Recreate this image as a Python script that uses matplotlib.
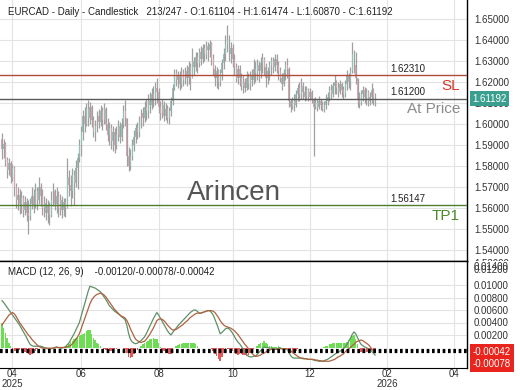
import numpy as np
import matplotlib.pyplot as plt
from matplotlib.transforms import Bbox, TransformedBbox, blended_transform_factory

plt.rcParams['font.family'] = ['Liberation Sans', 'DejaVu Sans']

title_left = "EURCAD - Daily - Candlestick"
title_right = "213/247 - O:1.61104 - H:1.61474 - L:1.60870 - C:1.61192"
macd_title = "MACD (12, 26, 9)    -0.00120/-0.00078/-0.00042"

# daily bars, open = previous close
first_open = 1.5930
closes = [
    1.5880, 1.5905, 1.5830, 1.5780, 1.5815, 1.5750, 1.5790, 1.5700, 1.5640, 1.5665,
    1.5620, 1.5650, 1.5590, 1.5630, 1.5580, 1.5565, 1.5620, 1.5660, 1.5610, 1.5680,
    1.5640, 1.5700, 1.5660, 1.5600, 1.5625, 1.5580, 1.5610, 1.5570, 1.5640, 1.5680,
    1.5620, 1.5660, 1.5600, 1.5640, 1.5590, 1.5630, 1.5600, 1.5750, 1.5710, 1.5680,
    1.5760, 1.5720, 1.5790, 1.5840, 1.5900, 1.5960, 1.6040, 1.6000, 1.6070, 1.6030,
    1.6080, 1.6020, 1.5960, 1.5990, 1.6040, 1.6010, 1.6060, 1.6020, 1.6070, 1.6000,
    1.5950, 1.5980, 1.5920, 1.5960, 1.5900, 1.5950, 1.5990, 1.5940, 1.6000, 1.6060,
    1.6030, 1.5850, 1.5800, 1.5850, 1.5900, 1.5940, 1.5980, 1.5960, 1.6010, 1.6050,
    1.6030, 1.6080, 1.6060, 1.6110, 1.6090, 1.6140, 1.6120, 1.6170, 1.6150, 1.6080,
    1.6050, 1.6090, 1.6040, 1.6070, 1.6030, 1.6060, 1.6110, 1.6170, 1.6240, 1.6210,
    1.6230, 1.6190, 1.6240, 1.6210, 1.6250, 1.6220, 1.6270, 1.6220, 1.6300, 1.6270,
    1.6320, 1.6290, 1.6340, 1.6310, 1.6360, 1.6330, 1.6370, 1.6350, 1.6380, 1.6310,
    1.6260, 1.6220, 1.6250, 1.6200, 1.6240, 1.6290, 1.6330, 1.6380, 1.6400, 1.6330,
    1.6360, 1.6310, 1.6270, 1.6220, 1.6260, 1.6220, 1.6180, 1.6200, 1.6170, 1.6220,
    1.6190, 1.6230, 1.6210, 1.6260, 1.6240, 1.6280, 1.6250, 1.6290, 1.6310, 1.6270,
    1.6220, 1.6250, 1.6280, 1.6300, 1.6270, 1.6310, 1.6280, 1.6250, 1.6220, 1.6190,
    1.6240, 1.6280, 1.6260, 1.6110, 1.6080, 1.6110, 1.6090, 1.6140, 1.6170, 1.6140,
    1.6180, 1.6150, 1.6130, 1.6160, 1.6130, 1.6150, 1.6120, 1.6080, 1.6100, 1.6080,
    1.6110, 1.6090, 1.6070, 1.6090, 1.6110, 1.6130, 1.6160, 1.6140, 1.6180, 1.6200,
    1.6170, 1.6150, 1.6190, 1.6160, 1.6140, 1.6190, 1.6230, 1.6200, 1.6250, 1.6330,
    1.6280, 1.6220, 1.6120, 1.6100, 1.6140, 1.6160, 1.6130, 1.6150, 1.6110, 1.6130,
    1.6160, 1.61104, 1.61192,
]
highs = [
    1.5957, 1.5930, 1.5915, 1.5845, 1.5840, 1.5825, 1.5810, 1.5800, 1.5720, 1.5700,
    1.5690, 1.5680, 1.5665, 1.5660, 1.5650, 1.5640, 1.5650, 1.5700, 1.5690, 1.5720,
    1.5700, 1.5750, 1.5720, 1.5690, 1.5660, 1.5650, 1.5640, 1.5630, 1.5680, 1.5720,
    1.5690, 1.5700, 1.5680, 1.5670, 1.5660, 1.5650, 1.5650, 1.5840, 1.5780, 1.5760,
    1.5790, 1.5780, 1.5830, 1.5860, 1.5930, 1.5990, 1.6066, 1.6080, 1.6100, 1.6114,
    1.6105, 1.6090, 1.6040, 1.6020, 1.6060, 1.6070, 1.6090, 1.6080, 1.6100, 1.6080,
    1.6030, 1.6010, 1.6000, 1.5990, 1.5980, 1.5990, 1.6020, 1.6010, 1.6030, 1.6090,
    1.6115, 1.6030, 1.5890, 1.5880, 1.5930, 1.5970, 1.6000, 1.6010, 1.6040, 1.6070,
    1.6080, 1.6110, 1.6120, 1.6140, 1.6150, 1.6170, 1.6180, 1.6200, 1.6220, 1.6170,
    1.6110, 1.6120, 1.6110, 1.6100, 1.6090, 1.6080, 1.6130, 1.6190, 1.6260, 1.6260,
    1.6250, 1.6250, 1.6270, 1.6260, 1.6270, 1.6280, 1.6300, 1.6290, 1.6360, 1.6320,
    1.6340, 1.6340, 1.6360, 1.6370, 1.6380, 1.6380, 1.6395, 1.6390, 1.6400, 1.6390,
    1.6330, 1.6280, 1.6270, 1.6260, 1.6260, 1.6310, 1.6360, 1.6420, 1.6470, 1.6420,
    1.6390, 1.6380, 1.6330, 1.6290, 1.6280, 1.6280, 1.6240, 1.6230, 1.6220, 1.6250,
    1.6240, 1.6250, 1.6260, 1.6310, 1.6300, 1.6310, 1.6300, 1.6320, 1.6336, 1.6320,
    1.6290, 1.6270, 1.6300, 1.6320, 1.6320, 1.6330, 1.6330, 1.6300, 1.6270, 1.6240,
    1.6260, 1.6300, 1.6315, 1.6270, 1.6120, 1.6130, 1.6140, 1.6160, 1.6190, 1.6200,
    1.6218, 1.6200, 1.6180, 1.6180, 1.6170, 1.6170, 1.6160, 1.6125, 1.6130, 1.6120,
    1.6135, 1.6120, 1.6110, 1.6110, 1.6140, 1.6150, 1.6180, 1.6190, 1.6200, 1.6232,
    1.6210, 1.6200, 1.6210, 1.6200, 1.6180, 1.6210, 1.6256, 1.6240, 1.6270, 1.6390,
    1.6350, 1.6340, 1.6220, 1.6150, 1.6160, 1.6180, 1.6175, 1.6170, 1.6160, 1.6150,
    1.6195, 1.6170, 1.61474,
]
lows = [
    1.5835, 1.5840, 1.5800, 1.5745, 1.5760, 1.5720, 1.5730, 1.5660, 1.5600, 1.5590,
    1.5575, 1.5580, 1.5560, 1.5570, 1.5540, 1.5480, 1.5545, 1.5595, 1.5580, 1.5600,
    1.5590, 1.5620, 1.5610, 1.5570, 1.5560, 1.5545, 1.5530, 1.5520, 1.5560, 1.5610,
    1.5590, 1.5580, 1.5560, 1.5570, 1.5555, 1.5565, 1.5560, 1.5600, 1.5660, 1.5610,
    1.5650, 1.5615, 1.5700, 1.5690, 1.5820, 1.5850, 1.5925, 1.5960, 1.5990, 1.5990,
    1.6000, 1.5985, 1.5940, 1.5920, 1.5960, 1.5980, 1.5990, 1.5970, 1.6000, 1.5970,
    1.5920, 1.5900, 1.5880, 1.5870, 1.5860, 1.5880, 1.5920, 1.5910, 1.5920, 1.5980,
    1.5990, 1.5800, 1.5775, 1.5780, 1.5830, 1.5870, 1.5910, 1.5930, 1.5940, 1.5980,
    1.5990, 1.6010, 1.6020, 1.6030, 1.6050, 1.6070, 1.6080, 1.6090, 1.6100, 1.6050,
    1.6020, 1.6030, 1.6015, 1.6020, 1.6005, 1.6000, 1.6040, 1.6090, 1.6160, 1.6180,
    1.6170, 1.6160, 1.6170, 1.6180, 1.6190, 1.6180, 1.6190, 1.6160, 1.6220, 1.6230,
    1.6250, 1.6240, 1.6270, 1.6280, 1.6290, 1.6300, 1.6310, 1.6300, 1.6320, 1.6280,
    1.6230, 1.6180, 1.6170, 1.6165, 1.6180, 1.6210, 1.6260, 1.6300, 1.6340, 1.6300,
    1.6290, 1.6270, 1.6230, 1.6200, 1.6190, 1.6180, 1.6160, 1.6147, 1.6150, 1.6160,
    1.6165, 1.6160, 1.6180, 1.6190, 1.6200, 1.6210, 1.6200, 1.6220, 1.6240, 1.6230,
    1.6175, 1.6190, 1.6210, 1.6230, 1.6240, 1.6250, 1.6240, 1.6210, 1.6200, 1.6160,
    1.6180, 1.6210, 1.6220, 1.6080, 1.6055, 1.6070, 1.6060, 1.6080, 1.6110, 1.6110,
    1.6120, 1.6120, 1.6110, 1.6115, 1.6110, 1.6115, 1.6100, 1.5850, 1.6070, 1.6060,
    1.6070, 1.6065, 1.6060, 1.6057, 1.6070, 1.6090, 1.6110, 1.6120, 1.6130, 1.6140,
    1.6140, 1.6130, 1.6140, 1.6130, 1.6120, 1.6130, 1.6160, 1.6170, 1.6160, 1.6240,
    1.6240, 1.6190, 1.6080, 1.6075, 1.6090, 1.6110, 1.6100, 1.6090, 1.6085, 1.6090,
    1.6100, 1.6090, 1.60870,
]

# MACD and signal, in units of 0.0001
macd_pips = [
    75, 72, 68, 64, 60, 56, 52, 48, 44, 40, 36,
    31, 26, 21, 16, 10, 5, 3, 2, 2, 2, 2, 2,
    1, 0, -1, -2, -3, -2, -1, 0, 1, 0, -1, -1, 0, 1,
    4, 7, 12, 17, 22, 28, 34, 40, 50, 60, 70, 80, 90, 98,
    97, 96, 95, 93, 91, 89, 85, 81, 77, 72, 67,
    64, 61, 58, 56, 54, 52, 49, 47, 44,
    35, 22, 13, 9, 7, 6, 7, 9, 11, 14, 17,
    22, 28, 34, 40, 46, 51, 56, 52, 47, 42, 37,
    32, 27, 23, 20, 24, 28, 31, 35, 38,
    41, 44, 47, 50, 53, 56, 58, 60, 60, 58, 55,
    55, 56, 57, 58, 59, 59, 56, 52, 45, 38, 30, 22,
    24, 27, 30, 31, 30, 27, 23, 18, 13, 9, 6,
    2, -3, -7, -11, -14, -15, -15, -14, -14,
    -11, -8, -5, -2, 1, 0, 0, -1, -1, -2, -2,
    -2, -1, -1, -2, -2, -2, -3, -8, -13, -16,
    -17, -17, -17, -17, -17, -18, -18, -18, -19, -19,
    -19, -20, -21, -21, -22, -22, -22, -21, -20, -19, -17,
    -15, -13, -11, -9, -8, -6, -4, -2, 1, 5,
    10, 15, 21, 25, 22, 16, 10, 5,
    3, 1, 0, -2, -3, -6, -9, -12,
]
signal_pips = [
    36, 40, 44, 48, 52, 54, 56, 54, 50, 45, 40,
    36, 32, 28, 24, 20, 17, 13, 10, 7, 4, 2, 0,
    -1, -1, -1, -1, -1, -1, -1, -1, 0, 0, 0, 0, 0, 0,
    1, 2, 3, 6, 9, 13, 17, 22, 30, 38, 46, 54, 62, 70,
    76, 80, 83, 85, 86, 87, 86, 84, 81, 77, 73,
    69, 65, 61, 58, 55, 52, 50, 49, 47,
    43, 37, 30, 24, 18, 13, 11, 9, 8, 9, 10,
    13, 17, 21, 26, 31, 37, 43, 45, 46, 45, 43,
    40, 36, 33, 30, 28, 28, 29, 31, 33,
    35, 37, 40, 42, 45, 48, 50, 52, 54, 55, 55,
    55, 56, 57, 58, 59, 59, 59, 58, 56, 52, 48, 43,
    39, 36, 34, 33, 32, 31, 29, 27, 24, 21, 17,
    13, 9, 5, 2, -2, -6, -9, -12, -14,
    -14, -13, -12, -10, -9, -7, -5, -4, -3, -3, -3,
    -3, -3, -2, -2, -2, -2, -2, -3, -5, -8,
    -10, -12, -14, -16, -17, -17, -18, -18, -19, -19,
    -19, -19, -20, -20, -21, -21, -22, -22, -22, -22, -22,
    -21, -20, -19, -17, -15, -14, -12, -10, -7, -4,
    -2, 0, 3, 5, 8, 10, 11, 12,
    11, 9, 7, 5, 2, -2, -5, -8,
]

levels = [1.62310, 1.61200, 1.56147]
level_names = ["SL", "At Price", "TP1"]
last_price = 1.61192
macd_last = [-0.00042, -0.00078]

tick_pos = [6, 45, 89, 131, 175, 219, 257]
tick_labels = ["04\n2025", "06", "08", "10", "12", "02\n2026", "04"]

closes = np.array(closes)
highs = np.array(highs)
lows = np.array(lows)
opens = np.concatenate([[first_open], closes[:-1]])
x = np.arange(len(closes))
macd = np.array(macd_pips) / 10000
signal = np.array(signal_pips) / 10000
hist = macd - signal

fig = plt.figure(figsize=(5.2, 3.9), dpi=100)
ax = fig.add_axes([0, 1 - 261 / 390, 467 / 520, 261 / 390])
ax2 = fig.add_axes([0, 1 - 368 / 390, 467 / 520, 107 / 390])

grid_c = '#e3e3e3'
txt_c = '#333333'
xmin, xmax = -1.1, 264.2

for a in (ax, ax2):
    a.set_xlim(xmin, xmax)
    a.set_xticks(tick_pos)
    a.grid(True, color=grid_c, lw=0.8)
    a.set_axisbelow(True)
    a.yaxis.tick_right()
    a.tick_params(axis='y', length=0, pad=5, labelsize=7, labelcolor=txt_c)
    for s in ('left', 'top'):
        a.spines[s].set_visible(False)
    a.spines['right'].set_linewidth(1.0)

# price panel
ax.set_ylim(1.5350, 1.6588)
ax.set_yticks(np.arange(1.54, 1.6501, 0.01))
ax.yaxis.set_major_formatter(plt.FormatStrFormatter('%.5f'))
ax.tick_params(axis='x', length=0, labelbottom=False)
ax.spines['bottom'].set_linewidth(1.0)

up = closes >= opens
body_c = np.where(up, '#8cc3bb', '#d6a5ac')
ax.vlines(x, lows, highs, color='#a0a0a0', lw=0.9, zorder=2)
ax.bar(x, np.maximum(np.abs(closes - opens), 0.0002), bottom=np.minimum(opens, closes),
       width=0.55, color=body_c, lw=0, zorder=3)

line_cols = ['#b04a3c', '#5a5a5a', '#4d7f2e']
name_cols = ['#d8382b', '#8a8a8a', '#4d8a2e']
for lv, nm, lc, nc in zip(levels, level_names, line_cols, name_cols):
    ax.axhline(lv, color=lc, lw=1.0, zorder=4)
    ax.text(390 / 467 * (xmax - xmin) + xmin, lv + 0.0008, f"{lv:.5f}", fontsize=7,
            color='#222222', va='bottom', zorder=5)
    ax.text(460 / 467 * (xmax - xmin) + xmin, lv - 0.0016, nm, fontsize=11,
            color=nc, ha='right', va='top', zorder=5)

ax.text(0.5, 0.26, "Arincen", transform=ax.transAxes, fontsize=20, color='#555555',
        ha='center', va='center', zorder=1)

ax.text(8 / 467, 1 - 12 / 261, title_left + "   " + title_right, transform=ax.transAxes,
        fontsize=7, color='#222222', va='center')

rt = blended_transform_factory(ax.transAxes, ax.transData)
ax.text(1 + 5 / 467, last_price, f"{last_price:.5f}", transform=rt, fontsize=7,
        color='white', va='center', clip_on=False, zorder=6,
        bbox=dict(boxstyle='square,pad=0.25', fc='#3a9f8e', ec='none'))
ax.text(1 + 7 / 467, 1.66, "1.66000", transform=rt, fontsize=7, color=txt_c,
        va='center', clip_on=False)
t53 = fig.text(474 / 520, 1 - 264 / 390, "1.53000", fontsize=7, color=txt_c,
               va='center')
t53.set_clip_box(TransformedBbox(Bbox([[0.9, 1 - 261 / 390], [1, 1]]), fig.transFigure))
t53.set_clip_on(True)

# MACD panel
ax2.set_ylim(-0.00328, 0.01384)
ax2.set_yticks(np.arange(0.002, 0.0101, 0.002))
ax2.yaxis.set_major_formatter(plt.FormatStrFormatter('%.5f'))
ax2.spines['top'].set_visible(True)
ax2.spines['top'].set_linewidth(1.0)
ax2.set_xticklabels(tick_labels)
ax2.tick_params(axis='x', length=0, pad=1, labelsize=7, labelcolor=txt_c)
for lab in ax2.get_xticklabels():
    lab.set_linespacing(0.9)

hist_c = np.where(hist >= 0, '#6fdc55', '#e05a5a')
ax2.bar(x, hist, width=0.85, color=hist_c, lw=0, zorder=2)
ax2.plot(x, macd, color='#5f9068', lw=0.9, zorder=3)
ax2.plot(x, signal, color='#b0623f', lw=0.9, zorder=3)
for v in macd_last:
    ax2.axhline(v, color='black', lw=1.6, ls=(0, (1.2, 1.2)), zorder=4)

ax2.text(8 / 467, 1 - 11 / 107, macd_title, transform=ax2.transAxes, fontsize=7,
         color='#222222', va='center')
rt2 = blended_transform_factory(ax2.transAxes, ax2.transData)
ax2.text(1 + 7 / 467, 0.0129, "0.01400", transform=rt2, fontsize=7, color=txt_c,
         va='center', clip_on=False)
ax2.text(1 + 7 / 467, 0.0124, "0.01200", transform=rt2, fontsize=7, color=txt_c,
         va='center', clip_on=False)
ax2.text(1 + 6 / 467, 1 - 91 / 107, f"{macd_last[0]:.5f}", transform=ax2.transAxes,
         fontsize=7, color='white', va='center', clip_on=False,
         bbox=dict(boxstyle='square,pad=0.3', fc='#e8241c', ec='none'))
ax2.text(1 + 6 / 467, 1 - 103 / 107, f"{macd_last[1]:.5f}", transform=ax2.transAxes,
         fontsize=7, color='white', va='center', clip_on=False,
         bbox=dict(boxstyle='square,pad=0.3', fc='#e8241c', ec='none'))

fig.savefig('out.png', dpi=100)
